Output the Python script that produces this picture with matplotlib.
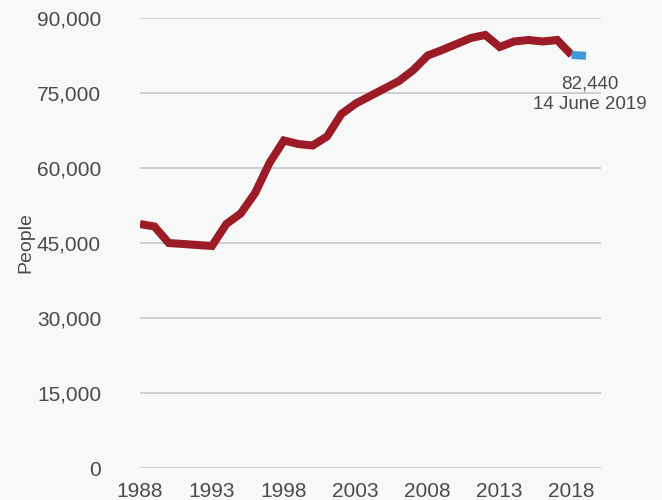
import matplotlib.pyplot as plt
from matplotlib.ticker import FuncFormatter

# Data
years = [1988, 1989, 1990, 1991, 1992, 1993, 1994, 1995, 1996, 1997,
         1998, 1999, 2000, 2001, 2002, 2003, 2004, 2005, 2006, 2007,
         2008, 2009, 2010, 2011, 2012, 2013, 2014, 2015, 2016, 2017, 2018]
people = [48800, 48300, 45000, 44800, 44600, 44400, 48800, 50900, 55000, 61000,
          65500, 64800, 64500, 66300, 70800, 72900, 74400, 75900, 77400, 79600,
          82500, 83600, 84800, 86000, 86600, 84200, 85300, 85600, 85300, 85600, 82600]
latest_years = [2018, 2019]
latest_people = [82600, 82440]
y_ticks = [0, 15000, 30000, 45000, 60000, 75000, 90000]
x_ticks = [1988, 1993, 1998, 2003, 2008, 2013, 2018]

bg = "#f7f8f8"
text_col = "#4a4a4a"

plt.rcParams["font.family"] = ["Liberation Sans", "DejaVu Sans"]

fig = plt.figure(figsize=(6.62, 5.0), dpi=100, facecolor=bg)
ax = fig.add_axes([0.2115, 0.064, 0.6965, 0.9])
ax.set_facecolor(bg)

ax.plot(years, people, color="#9b1c26", lw=5.8, solid_capstyle="butt",
        solid_joinstyle="miter", zorder=3)
ax.plot(latest_years, latest_people, color="#3d9ad6", lw=5.8,
        solid_capstyle="butt", zorder=3)

ax.annotate("82,440\n14 June 2019", xy=(latest_years[-1], latest_people[-1]),
            xytext=(3, -14), textcoords="offset points", ha="center", va="top",
            fontsize=13.5, color=text_col, linespacing=1.3)

ax.set_xlim(1988, 2020.05)
ax.set_ylim(0, 90000)
ax.set_yticks(y_ticks)
ax.set_xticks(x_ticks)
ax.yaxis.set_major_formatter(FuncFormatter(lambda v, p: f"{int(v):,}"))
ax.grid(axis="y", color="#c9c9c9", lw=1.2)
ax.set_axisbelow(True)
for s in ax.spines.values():
    s.set_visible(False)
ax.tick_params(length=0, labelsize=15, colors=text_col)
ax.tick_params(axis="y", pad=28)
ax.tick_params(axis="x", pad=10)
ax.set_ylabel("People", fontsize=14, color=text_col, labelpad=2)

fig.savefig("out.png", dpi=100, facecolor=bg)
